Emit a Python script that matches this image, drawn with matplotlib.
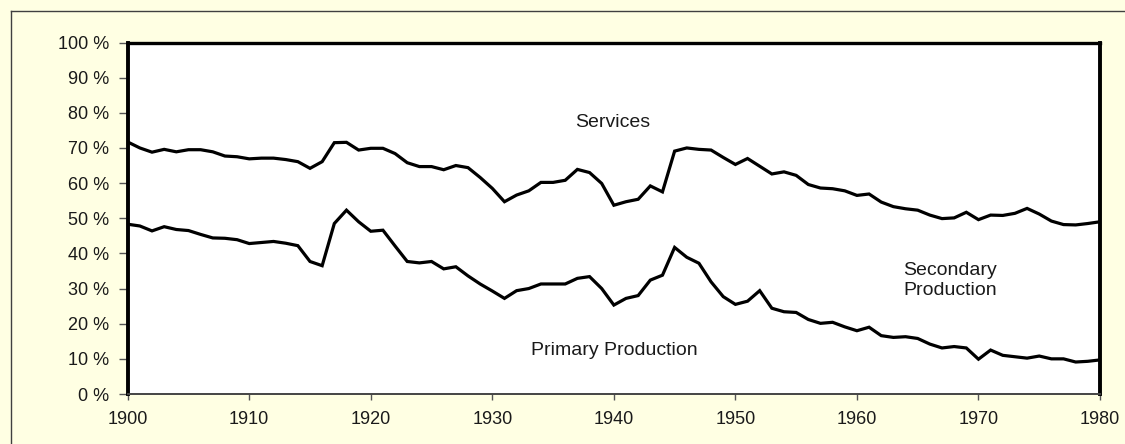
import matplotlib
matplotlib.use("Agg")
import matplotlib.pyplot as plt
from matplotlib.lines import Line2D

years = list(range(1900, 1981))

# Cumulative share: primary production (lower line)
primary = [48.3, 47.8, 46.4, 47.6, 46.8, 46.5, 45.4, 44.4, 44.3, 43.9,
           42.8, 43.1, 43.4, 42.9, 42.2, 37.7, 36.5, 48.5, 52.3, 49.0,
           46.3, 46.6, 42.1, 37.7, 37.3, 37.7, 35.6, 36.2, 33.6, 31.3,
           29.3, 27.2, 29.4, 30.0, 31.3, 31.3, 31.3, 32.9, 33.4, 30.0,
           25.3, 27.2, 28.0, 32.4, 33.8, 41.7, 38.9, 37.2, 31.9, 27.7,
           25.5, 26.4, 29.4, 24.4, 23.4, 23.2, 21.2, 20.1, 20.4, 19.1,
           18.0, 19.0, 16.6, 16.1, 16.3, 15.8, 14.2, 13.1, 13.5, 13.1,
           9.9, 12.5, 11.0, 10.6, 10.2, 10.8, 10.0, 10.0, 9.1, 9.3,
           9.7]

# Cumulative share: primary + secondary production (upper line)
upper = [71.7, 70.0, 68.8, 69.6, 68.9, 69.5, 69.5, 68.9, 67.7, 67.5,
         66.9, 67.1, 67.1, 66.7, 66.1, 64.2, 66.1, 71.5, 71.6, 69.4,
         69.9, 69.9, 68.4, 65.8, 64.7, 64.7, 63.8, 65.0, 64.4, 61.6,
         58.5, 54.7, 56.6, 57.8, 60.2, 60.2, 60.8, 63.9, 63.0, 59.9,
         53.7, 54.7, 55.4, 59.2, 57.5, 69.1, 70.0, 69.6, 69.4, 67.3,
         65.3, 67.0, 64.8, 62.6, 63.2, 62.2, 59.6, 58.6, 58.4, 57.8,
         56.5, 56.9, 54.6, 53.3, 52.7, 52.3, 50.9, 49.9, 50.1, 51.7,
         49.6, 50.9, 50.8, 51.4, 52.8, 51.2, 49.2, 48.2, 48.1, 48.5,
         49.0]

y_ticks = list(range(0, 101, 10))
y_tick_labels = [f"{v} %" for v in y_ticks]
x_ticks = list(range(1900, 1981, 10))

plt.rcParams['font.family'] = ['Liberation Sans', 'DejaVu Sans']

bg = '#FFFFE3'
fig = plt.figure(figsize=(11.25, 4.44), dpi=100, facecolor=bg)
ax = fig.add_axes([127.7 / 1125, (444 - 394) / 444,
                   (1100 - 127.7) / 1125, (394 - 42.5) / 444])
ax.set_facecolor('white')

ax.plot(years, primary, color='black', lw=2.3, solid_joinstyle='miter')
ax.plot(years, upper, color='black', lw=2.3, solid_joinstyle='miter')

ax.set_xlim(1900, 1980)
ax.set_ylim(0, 100)
ax.set_xticks(x_ticks)
ax.set_yticks(y_ticks)
ax.set_yticklabels(y_tick_labels)

ax.tick_params(axis='y', direction='out', length=6.5, width=1, color='#555555',
               pad=7, labelsize=13, labelcolor='#1a1a1a')
ax.tick_params(axis='x', direction='out', length=4, width=1, color='#555555',
               pad=8, labelsize=13, labelcolor='#1a1a1a')

for side in ['left', 'right']:
    ax.spines[side].set_linewidth(2.8)
    ax.spines[side].set_color('black')
ax.spines['top'].set_linewidth(2.4)
ax.spines['top'].set_color('black')
ax.spines['bottom'].set_linewidth(1.4)
ax.spines['bottom'].set_color('#444444')

ax.text(1939.9, 77.1, 'Services', ha='center', va='center', fontsize=14, color='#1a1a1a')
ax.text(1940.0, 12.5, 'Primary Production', ha='center', va='center', fontsize=14, color='#1a1a1a')
ax.text(1963.8, 32.3, 'Secondary\nProduction', ha='left', va='center', fontsize=14,
        linespacing=1.25, color='#1a1a1a')

# Outer chart-area border (left and top visible in crop)
fig.add_artist(Line2D([11 / 1125, 11 / 1125], [0, (444 - 11) / 444],
                      transform=fig.transFigure, color='#404040', lw=1))
fig.add_artist(Line2D([11 / 1125, 1], [(444 - 11) / 444, (444 - 11) / 444],
                      transform=fig.transFigure, color='#404040', lw=1))

fig.savefig('out.png', dpi=100, facecolor=bg)
